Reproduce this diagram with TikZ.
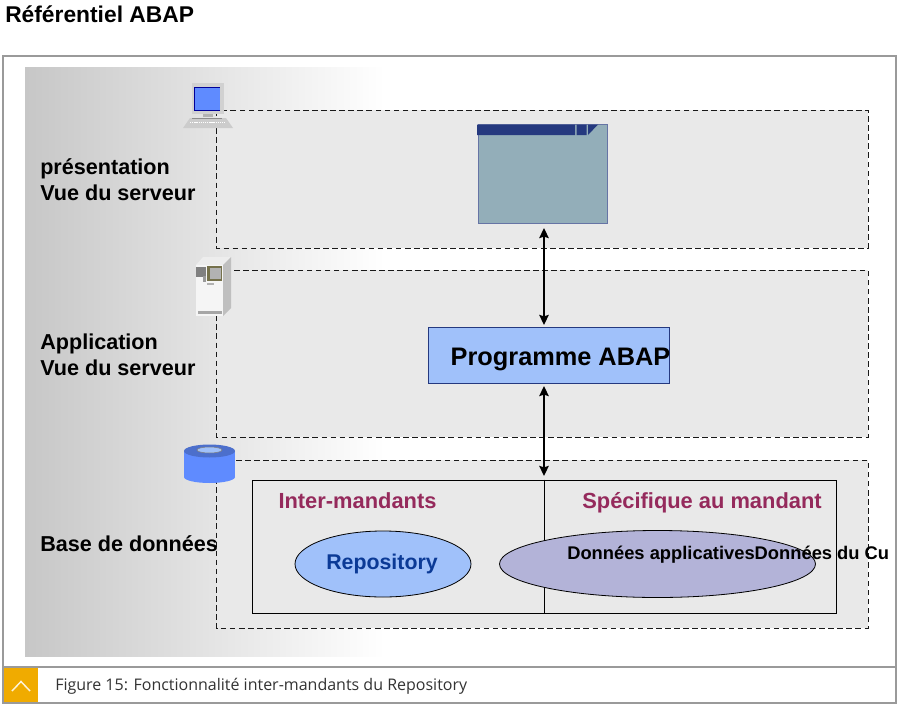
\documentclass[tikz,border=0pt]{standalone}
\usepackage{fontspec}
\setmainfont{Liberation Sans}
\newfontfamily\capfont{Open Sans}
\usetikzlibrary{arrows.meta}
\definecolor{zonefill}{HTML}{E9E9E9}
\definecolor{boxblue}{HTML}{A0C1FA}
\definecolor{navy}{HTML}{25397F}
\definecolor{winfill}{HTML}{93AEB9}
\definecolor{maroon}{HTML}{952A5C}
\definecolor{repotext}{HTML}{0B3A96}
\definecolor{lilac}{HTML}{B3B3D8}
\definecolor{framegray}{HTML}{9A9A9A}
\definecolor{iconblue}{HTML}{5F8BFF}
\definecolor{tabgold}{HTML}{F0AB00}
\tikzset{
  zone/.style={draw=black!90,dash pattern=on 4.2pt off 2.6pt,line width=0.75pt,fill=zonefill},
  side/.style={font=\fontsize{16.2}{19.5}\selectfont\bfseries,align=left,anchor=base west,inner sep=0pt},
  head/.style={font=\fontsize{16.4}{18}\selectfont\bfseries,text=maroon,inner sep=0pt,anchor=base},
  link/.style={draw=black,line width=2pt,{Stealth[length=7.5pt,width=7pt,inset=1pt]}-{Stealth[length=7.5pt,width=7pt,inset=1pt]}},
  framed/.style={draw=framegray,line width=1pt}
}
\begin{document}
\begin{tikzpicture}[x=0.75pt,y=-0.75pt]
\useasboundingbox (0,0) rectangle (911,707);
\fill[white] (0,0) rectangle (911,707);
% title
\node[font=\fontsize{17.1}{18}\selectfont\bfseries,anchor=base west,inner sep=0pt] (title) at (5,22) {Référentiel ABAP};
% frames
\draw[framed] (3,56) rectangle (896,667);
\draw[framed] (3,667) rectangle (896,703);
% gradient
\shade[left color=black!22,right color=white,shading angle=90,draw=none] (25,67) rectangle (385,656);
% zones
\draw[zone] (216.500,110) rectangle (868,248);
\draw[zone] (216.500,270) rectangle (868,437);
\draw[zone] (216.500,460) rectangle (868,628);
% side labels
\node[side] (l1a) at (40,174) {présentation};
\node[side] (l1b) at (40,200) {Vue du serveur};
\node[side] (l2a) at (40,349) {Application};
\node[side] (l2b) at (40,375) {Vue du serveur};
\node[side] (l3) at (40,551) {Base de données};
% window
\node[draw=navy!70!white,line width=0.7pt,fill=winfill,minimum width=129*0.75pt,minimum height=99*0.75pt,inner sep=0pt,anchor=north west] (win) at (477.500,124) {};
\fill[navy] (477,124.500) rectangle (575,135) (576.500,124.500) rectangle (586.500,135);
\fill[navy] (588,124.500) -- (598,124.500) -- (588,135) -- cycle;
% programme
\node[draw=navy,line width=0.8pt,fill=boxblue,minimum width=241*0.75pt,minimum height=56*0.75pt,inner sep=0pt,anchor=north west] (prog) at (428,327) {};
\node[font=\fontsize{19}{20}\selectfont\bfseries,inner sep=0pt,anchor=base] (progt) at (560.500,365) {Programme ABAP};
% db box
\node[draw=black,line width=0.9pt,fill=zonefill,minimum width=584*0.75pt,minimum height=133*0.75pt,inner sep=0pt,anchor=north west] (db) at (252,479.500) {};
\draw[black,line width=0.7pt] (544,479.500) -- (544,612.500);
\node[head] (h1) at (357.500,508) {Inter-mandants};
\node[head] (h2) at (702,508) {Spécifique au mandant};
% ellipses
\draw[draw=black,line width=0.6pt,fill=boxblue] (383,564) ellipse [x radius=88,y radius=33];
\node[font=\fontsize{16}{18}\selectfont\bfseries,text=repotext,inner sep=0pt,anchor=base] (repo) at (382,569) {Repository};
\draw[draw=black,line width=0.6pt,fill=lilac] (657.500,564) ellipse [x radius=158,y radius=33.500];
\node[font=\fontsize{13.750}{15}\selectfont\bfseries,anchor=base west,inner sep=0pt] (donn) at (567,559) {Données applicativesDonnées du Cu};
% arrows
\coordinate (a1) at (544,228);
\coordinate (a2) at (544,325);
\coordinate (a3) at (544,386);
\coordinate (a4) at (544,476);
\draw[link] (a1) -- (a2);
\draw[link] (a3) -- (a4);
% computer icon
\fill[black!18] (192,83) rectangle (224,114);
\fill[blue!60!black] (194,87) rectangle (220,111);
\fill[iconblue] (195,88) rectangle (220,110);
\fill[black!30] (203,114) rectangle (213,117);
\fill[black!20] (190,118) -- (226,118) -- (233,128) -- (183,128) -- cycle;
\draw[black!45,line width=0.4pt] (192,118) -- (222,118);
\draw[white,line width=1.4pt,dash pattern=on 1pt off 0.6pt] (190,122.500) -- (226,122.500);
% server icon
\fill[black!7] (196,265) -- (203,257) -- (231,257) -- (223,265) -- cycle;
\fill[black!25] (223,265) -- (231,257) -- (231,308) -- (223,316) -- cycle;
\fill[black!4] (196,265) rectangle (223,316);
\fill[black!50] (196,267) rectangle (206,277);
\fill[black!55!olive!80!white] (207,266) rectangle (222,281);
\fill[black!30] (210,268) rectangle (221,279);
\fill[black!40] (203,276) rectangle (206,282);
\fill[black!30] (207,283) rectangle (214,285);
\fill[black!35] (198,311) rectangle (222,313.500);
% database icon
\fill[iconblue] (184,451) rectangle (235,477);
\fill[iconblue] (209.500,477) ellipse [x radius=25.500,y radius=6];
\fill[iconblue!80!black] (209.500,451) ellipse [x radius=25.500,y radius=6.500];
\fill[boxblue] (209.500,450) ellipse [x radius=12.500,y radius=3];
\draw[black!50,line width=0.4pt] (209.500,450) ellipse [x radius=12.500,y radius=3];
% caption
\fill[tabgold] (4,668) rectangle (38,702);
\draw[white!85!tabgold,line width=1.1pt] (12,691) -- (21,681.500) -- (30,691);
\node[font=\capfont\fontsize{12}{14}\selectfont,text=black!80,anchor=base west,inner sep=0pt] (cap) at (55,690) {Figure 15: Fonctionnalité inter-mandants du Repository};
\end{tikzpicture}
\end{document}
